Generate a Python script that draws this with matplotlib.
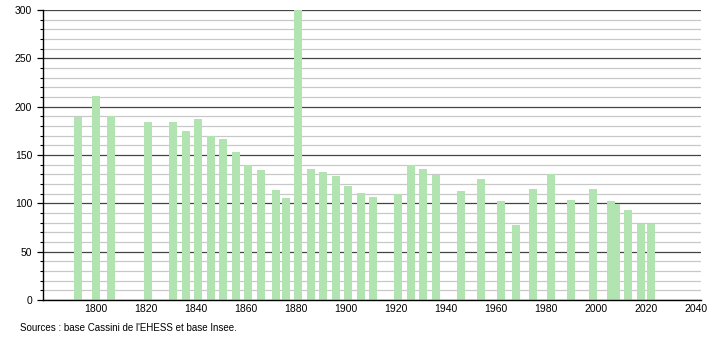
import matplotlib
matplotlib.use("Agg")
import matplotlib.pyplot as plt
from matplotlib.ticker import MultipleLocator

years = [1793, 1800, 1806, 1821, 1831, 1836, 1841, 1846, 1851, 1856, 1861, 1866,
         1872, 1876, 1881, 1886, 1891, 1896, 1901, 1906, 1911, 1921, 1926, 1931,
         1936, 1946, 1954, 1962, 1968, 1975, 1982, 1990, 1999, 2006, 2008, 2013,
         2018, 2022]
population = [189, 211, 190, 184, 184, 175, 187, 170, 167, 153, 140, 135,
              114, 106, 300, 136, 132, 128, 118, 111, 107, 110, 140, 136,
              129, 113, 125, 102, 78, 115, 130, 103, 115, 102, 99, 93,
              79, 79]
x_ticks = [1800, 1820, 1840, 1860, 1880, 1900, 1920, 1940, 1960, 1980, 2000, 2020, 2040]
source_text = "Sources : base Cassini de l'EHESS et base Insee."

plt.rcParams['font.family'] = ['Liberation Sans', 'DejaVu Sans']

fig = plt.figure(figsize=(7.1, 3.4), dpi=100)
ax = fig.add_axes([0.061, 0.1176, 0.926, 0.853])

ax.set_ylim(0, 300)
ax.set_xlim(1779, 2042)

ax.yaxis.set_major_locator(MultipleLocator(50))
ax.yaxis.set_minor_locator(MultipleLocator(10))
ax.grid(which='minor', axis='y', color='#c8c8c8', linewidth=0.9, zorder=0)
ax.grid(which='major', axis='y', color='#444444', linewidth=0.9, zorder=0)
ax.set_axisbelow(True)

ax.bar(years, population, width=3.2, color='#b2e4b2', zorder=2)

ax.set_xticks(x_ticks)
ax.set_xticklabels([str(t) for t in x_ticks])
ax.tick_params(axis='x', length=0, labelsize=7.5, pad=3)
ax.tick_params(axis='y', which='major', length=4, width=0.9, labelsize=7.5, pad=4)
ax.tick_params(axis='y', which='minor', length=2, width=0.8)

for s in ['top', 'right']:
    ax.spines[s].set_visible(False)
for s in ['left', 'bottom']:
    ax.spines[s].set_color('black')
    ax.spines[s].set_linewidth(1.0)

fig.text(0.028, 0.035, source_text, fontsize=7, ha='left', va='center')

fig.savefig('out.png', dpi=100)
